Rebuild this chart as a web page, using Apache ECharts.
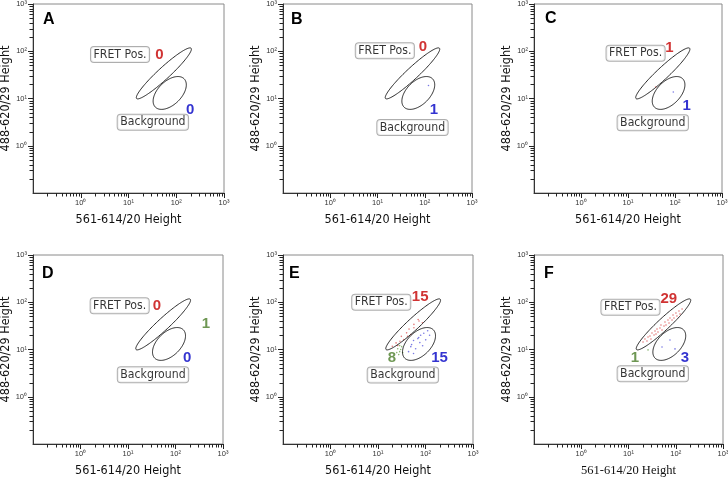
<!DOCTYPE html>
<html><head><meta charset="utf-8">
<script src="https://cdn.jsdelivr.net/npm/echarts@6/dist/echarts.min.js"></script>
<style>html,body{margin:0;padding:0;background:#fff}#c{width:728px;height:479px}</style>
</head><body><div id="c"></div>
<script>
// ---------- data ----------
const panelLetters = ['A', 'B', 'C', 'D', 'E', 'F'];
const tickValues = [0.1, 1, 10, 100, 1000];
const tickLabels = ['', '10\u2070', '10\u00b9', '10\u00b2', '10\u00b3'];
const minorTickValues = [0.2, 0.3, 0.4, 0.5, 0.6, 0.7, 0.8, 0.9, 2, 3, 4, 5, 6, 7, 8, 9,
  20, 30, 40, 50, 60, 70, 80, 90, 200, 300, 400, 500, 600, 700, 800, 900];
const xAxisTitle = '561-614/20 Height';
const yAxisTitle = '488-620/29 Height';
const gateNames = ['FRET Pos.', 'Background'];
// gates: [centerX, centerY, semi-major (decades), semi-minor (decades), angle (deg)]
const gateFRET = [55, 34, 0.78, 0.125, 43];
const gateBackground = [73, 13.1, 0.425, 0.247, 45];

const countsRed = ['0', '0', '1', '0', '15', '29'];
const countsBlue = ['0', '1', '1', '0', '15', '3'];
const countsGreen = [null, null, null, '1', '8', '1'];

// label anchor positions (data units) per panel
const fretBoxPos = [[6.65, 85.5], [14.3, 103], [14.5, 91], [6.68, 84.5], [11.7, 100], [11.0, 78.5]];
const bgBoxPos = [[32.4, 3.13], [55, 2.43], [33.7, 3.08], [33.6, 2.93], [33.4, 2.89], [32.7, 3.06]];
const redCountPos = [[44.2, 83.6], [91.8, 125], [75.7, 117], [40.8, 84.2], [77.3, 130], [71.3, 116]];
const blueCountPos = [[196, 5.74], [157, 5.68], [177, 7.0], [176, 6.78], [197, 6.64], [157, 6.52]];
const greenCountPos = [null, null, null, [438, 35.2], [19.7, 6.64], [13.7, 6.52]];

// events (dots)
const redDotsA = [];
const redDotsB = [];
const redDotsC = [[38.8, 17.5]];
const redDotsD = [];
const redDotsE = [[73, 40], [57, 34], [45, 27], [40, 22.5], [49, 20.7], [35, 16.2], [29, 14.9], [26, 12.1],
  [20, 11.7], [70, 43], [86, 36.7], [42, 19], [31, 19], [24, 13.8], [57, 28.8]];
const redDotsF = [[20.3, 14.4], [22.3, 16.7], [24.6, 15.1], [25.9, 18.4], [28.5, 19.3], [29.9, 16.7], [31.4, 22.3],
  [34.7, 20.3], [36.4, 24.6], [38.2, 21.3], [40.1, 27.2], [42.1, 23.4], [46.4, 28.5], [48.7, 33], [51.2, 25.9],
  [56.4, 31.4], [59.2, 38.2], [62.2, 33], [68.5, 42.1], [72, 36.4], [75.5, 46.4], [83.4, 42.1], [87.5, 53.7],
  [91.8, 46.4], [101, 59.2], [106, 51.2], [117, 65.3], [123, 56.4], [136, 72]];
const blueDotsA = [];
const blueDotsB = [[120, 18.8]];
const blueDotsC = [[92, 13.7]];
const blueDotsD = [];
const blueDotsE = [[111, 25], [92, 22], [79, 20], [69, 17], [101, 16], [56, 15.5], [76, 14], [87, 12], [49, 11.5],
  [62, 10.4], [44, 9], [56, 8.2], [72, 18], [122, 20], [51, 12.7]];
const blueDotsF = [[51.2, 11.3], [75.5, 15.9], [96.4, 10.3]];
const greenDotsA = [];
const greenDotsB = [];
const greenDotsC = [];
const greenDotsD = [];
const greenDotsE = [[26, 10.4], [28.6, 9], [31.5, 11.5], [27.3, 7.8], [30, 10], [24.8, 8.6], [33, 8.6], [28.6, 12.1]];
const greenDotsF = [[25.9, 9.8]];

// ---------- layout / style ----------
const redDots = [redDotsA, redDotsB, redDotsC, redDotsD, redDotsE, redDotsF];
const blueDots = [blueDotsA, blueDotsB, blueDotsC, blueDotsD, blueDotsE, blueDotsF];
const greenDots = [greenDotsA, greenDotsB, greenDotsC, greenDotsD, greenDotsE, greenDotsF];
const gridLeft = [33, 283, 534, 33, 283, 534];
const gridTop = [4, 4, 4, 255, 255, 255];
const gridWidth = [191, 189, 188, 190, 190, 189];
const gridHeight = 189;
const letterPos = [[43, 12], [291, 12], [545, 10.5], [42, 265.5], [289, 265.5], [544, 265.5]];
const RED = '#c40000', BLUE = '#0000c4', GREEN = '#4a7d28';
const SANS = "'DejaVu Sans Condensed', Lato, sans-serif";

function renderGate(params, api) {
  const cx = api.value(0), cy = api.value(1), a = api.value(2), b = api.value(3);
  const ang = api.value(4) * Math.PI / 180;
  const lx0 = Math.log10(cx), ly0 = Math.log10(cy);
  const pts = [];
  const N = 120;
  for (let i = 0; i < N; i++) {
    const t = i / N * 2 * Math.PI;
    const u = a * Math.cos(t), v = b * Math.sin(t);
    const lx = lx0 + u * Math.cos(ang) - v * Math.sin(ang);
    const ly = ly0 + u * Math.sin(ang) + v * Math.cos(ang);
    pts.push(api.coord([Math.pow(10, lx), Math.pow(10, ly)]));
  }
  return { type: 'polygon', shape: { points: pts }, style: { fill: 'none', stroke: '#111', lineWidth: 0.9 } };
}

function renderMinorTicks(params, api) {
  const v = api.value(0);
  const lo = tickValues[0];
  const px = api.coord([v, lo]);
  const py = api.coord([lo, v]);
  const st = { stroke: '#222', lineWidth: 1 };
  const xx = Math.round(px[0]) + 0.5, yy = Math.round(py[1]) + 0.5;
  return { type: 'group', children: [
    { type: 'line', shape: { x1: xx, y1: px[1], x2: xx, y2: px[1] + 3.5 }, style: st },
    { type: 'line', shape: { x1: py[0], y1: yy, x2: py[0] - 3.5, y2: yy }, style: st }
  ] };
}

function tickFmt(v) {
  for (let i = 0; i < tickValues.length; i++) {
    if (Math.abs(Math.log10(v) - Math.log10(tickValues[i])) < 1e-6) return tickLabels[i];
  }
  return '';
}

const grids = [], xAxes = [], yAxes = [], series = [], titles = [];
for (let p = 0; p < 6; p++) {
  grids.push({ left: gridLeft[p], top: gridTop[p], width: gridWidth[p], height: gridHeight,
    show: true, borderColor: '#8a8a8a', borderWidth: 1, backgroundColor: '#fff', outerBoundsMode: 'none', containLabel: false });
  const axisCommon = {
    type: 'log', logBase: 10, min: tickValues[0], max: tickValues[tickValues.length - 1], gridIndex: p,
    nameLocation: 'middle',
    axisLine: { show: true, lineStyle: { color: '#333', width: 1 } },
    axisTick: { show: true, length: 5, lineStyle: { color: '#222' } },
    minorTick: { show: false },
    splitLine: { show: false }, minorSplitLine: { show: false },
    axisLabel: { formatter: tickFmt, showMinLabel: false, fontFamily: 'Liberation Sans', fontSize: 7.5, color: '#333', margin: 6 }
  };
  xAxes.push(Object.assign({}, axisCommon, {
    name: xAxisTitle, nameGap: 20,
    nameTextStyle: { fontFamily: p === 5 ? 'Liberation Serif' : SANS, fontSize: 12.5, color: '#111' }
  }));
  yAxes.push(Object.assign({}, axisCommon, {
    name: yAxisTitle, nameGap: 21,
    nameTextStyle: { fontFamily: SANS, fontSize: 12.5, color: '#111' }
  }));
  titles.push({ text: panelLetters[p], left: letterPos[p][0], top: letterPos[p][1], padding: 0,
    textStyle: { fontFamily: 'Liberation Sans', fontWeight: 'bold', fontSize: 16, color: '#000' } });

  series.push({ type: 'custom', xAxisIndex: p, yAxisIndex: p, renderItem: renderMinorTicks, silent: true, clip: false,
    encode: { x: 0, y: 1 }, data: minorTickValues.map(v => [v, v]), z: 1 });

  series.push({ type: 'custom', xAxisIndex: p, yAxisIndex: p, renderItem: renderGate, silent: true, clip: false,
    encode: { x: 0, y: 1 }, data: [gateFRET, gateBackground], z: 3 });

  const dotStyle = (c) => ({ type: 'scatter', xAxisIndex: p, yAxisIndex: p, symbolSize: 1.6, silent: true, z: 2,
    itemStyle: { color: c, opacity: 0.7 } });
  series.push(Object.assign(dotStyle('#d84040'), { data: redDots[p] }));
  series.push(Object.assign(dotStyle('#4040d8'), { data: blueDots[p] }));
  series.push(Object.assign(dotStyle('#5a9a38'), { data: greenDots[p] }));

  series.push({ type: 'scatter', xAxisIndex: p, yAxisIndex: p, symbolSize: 0, silent: true, z: 5,
    data: [{ value: fretBoxPos[p], name: gateNames[0] }, { value: bgBoxPos[p], name: gateNames[1] }],
    label: { show: true, position: 'inside', formatter: '{b}', fontFamily: SANS, fontSize: 12.2, lineHeight: 12, color: '#000',
      backgroundColor: '#fff', borderColor: '#9a9a9a', borderWidth: 1, borderRadius: 3, padding: [2, 2.5, 1, 2.5] } });

  const cnt = [
    { value: redCountPos[p], name: countsRed[p], label: { color: RED } },
    { value: blueCountPos[p], name: countsBlue[p], label: { color: BLUE } }
  ];
  if (countsGreen[p] !== null) cnt.push({ value: greenCountPos[p], name: countsGreen[p], label: { color: GREEN } });
  series.push({ type: 'scatter', xAxisIndex: p, yAxisIndex: p, symbolSize: 0, silent: true, z: 5, data: cnt,
    label: { show: true, position: 'inside', formatter: '{b}', fontFamily: 'Liberation Sans', fontWeight: 'bold', fontSize: 15 } });
}

const chart = echarts.init(document.getElementById('c'), null, { renderer: 'canvas' });
chart.setOption({ animation: false, backgroundColor: '#fff', title: titles, grid: grids, xAxis: xAxes, yAxis: yAxes, series: series });
</script></body></html>
